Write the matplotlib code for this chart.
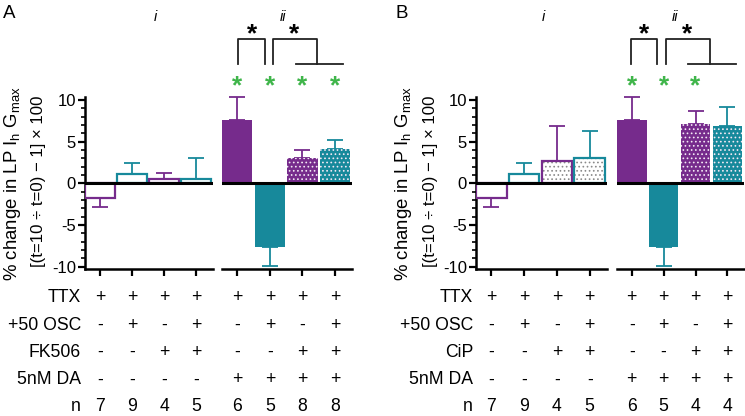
import matplotlib
matplotlib.use('Agg')
import matplotlib.pyplot as plt
from matplotlib.lines import Line2D
from matplotlib import transforms

plt.rcParams['font.family'] = ['Liberation Sans', 'DejaVu Sans']
plt.rcParams['axes.unicode_minus'] = False
plt.rcParams['mathtext.fontset'] = 'custom'
plt.rcParams['mathtext.rm'] = 'Liberation Sans'
plt.rcParams['mathtext.it'] = 'Liberation Sans:italic'
plt.rcParams['hatch.linewidth'] = 0.7

# ---------------- data ----------------
row_labels_A = ['TTX', '+50 OSC', 'FK506', '5nM DA', 'n']
row_labels_B = ['TTX', '+50 OSC', 'CiP', '5nM DA', 'n']
ttx = ['+', '+', '+', '+', '+', '+', '+', '+']
osc = ['-', '+', '-', '+', '-', '+', '-', '+']
drug = ['-', '-', '+', '+', '-', '-', '+', '+']
da = ['-', '-', '-', '-', '+', '+', '+', '+']
n_A = [7, 9, 4, 5, 6, 5, 8, 8]
n_B = [7, 9, 4, 5, 6, 5, 4, 4]

mean_A = [-1.8, 1.08, 0.52, 0.55, 7.6, -7.6, 3.0, 4.12]
sem_A = [1.1, 1.36, 0.76, 2.5, 2.8, 2.3, 1.0, 1.04]
mean_B = [-1.8, 1.08, 2.72, 3.08, 7.6, -7.6, 7.12, 6.88]
sem_B = [1.1, 1.36, 4.16, 3.15, 2.8, 2.3, 1.6, 2.24]

green_A = [False, False, False, False, True, True, True, True]
green_B = [False, False, False, False, True, True, True, False]

# ---------------- styles ----------------
PURPLE = '#762b8c'
TEAL = '#17899b'
GREEN = '#3fb54a'
colors = [PURPLE, TEAL] * 4
style_A = ['open', 'open', 'open', 'open', 'filled', 'filled', 'filled_dot', 'filled_dot']
style_B = ['open', 'open', 'open_dot', 'open_dot', 'filled', 'filled', 'filled_dot', 'filled_dot']

W, H = 745, 416
fig = plt.figure(figsize=(W / 100, H / 100), dpi=100)

def fx(px):
    return px / W

def fy(py):
    return 1 - py / H

Y_TOP_PX, Y_BOT_PX = 97.5, 269.3
YLIM = (-10.32, 10.3)
BW = 0.93
FS = 12.7


def make_ax(x0, x1, left=True):
    ax = fig.add_axes([fx(x0), fy(Y_BOT_PX), (x1 - x0) / W, (Y_BOT_PX - Y_TOP_PX) / H])
    ax.set_xlim(-0.47, 3.52)
    ax.set_ylim(*YLIM)
    ax.spines['top'].set_visible(False)
    ax.spines['right'].set_visible(False)
    ax.spines['bottom'].set_linewidth(1.8)
    ax.spines['left'].set_linewidth(1.8)
    ax.set_xticks(range(4))
    ax.set_xticklabels([''] * 4)
    ax.tick_params(axis='x', direction='out', length=5, width=1.6)
    if left:
        ax.set_yticks([-10, -5, 0, 5, 10])
        ax.set_yticks(range(-10, 11), minor=True)
        ax.tick_params(axis='y', which='major', direction='out', length=5, width=1.6,
                       labelsize=12, pad=1.5)
        ax.tick_params(axis='y', which='minor', direction='out', length=3, width=1.2)
    else:
        ax.spines['left'].set_visible(False)
        ax.set_yticks([])
    ax.axhline(0, color='black', lw=2.2, zorder=6)
    ax.patch.set_alpha(0)
    return ax


def draw_bar(ax, x, m, s, color, style):
    yerr = [[0], [s]] if m >= 0 else [[s], [0]]
    eb = ax.errorbar([x], [m], yerr=yerr, fmt='none', ecolor=color, elinewidth=1.3,
                     capsize=6, capthick=1.3, zorder=2)
    for child in eb.get_children():
        child.set_clip_on(False)
    if style == 'filled':
        ax.bar(x, m, width=BW, color=color, edgecolor='none', lw=0, zorder=3,
               antialiased=False)
    elif style == 'open':
        ax.bar(x, m, width=BW, facecolor='white', edgecolor=color, lw=1.6, zorder=3)
    elif style == 'filled_dot':
        ax.bar(x, m, width=BW, facecolor=color, edgecolor='#f2e8f4', hatch='....', lw=0,
               zorder=3, antialiased=False)
    elif style == 'open_dot':
        ax.bar(x, m, width=BW, facecolor='white', edgecolor='#8a8a8a', hatch='....', lw=0, zorder=3)
        ax.bar(x, m, width=BW, fill=False, edgecolor=color, lw=1.6, zorder=4)


def fline(xs, ys, lw=1.3, color='#222222'):
    fig.add_artist(Line2D([fx(v) for v in xs], [fy(v) for v in ys], color=color,
                          lw=lw, transform=fig.transFigure))


def panel(letter, letter_x, axL_px, axR_px, means, sems, styles, rows, ns, greens,
          label_x, ylab_x1, ylab_x2, i_x, ii_x, star_xs, br1, br2):
    axL = make_ax(*axL_px, left=True)
    axR = make_ax(*axR_px, left=False)
    for k in range(8):
        ax = axL if k < 4 else axR
        draw_bar(ax, k % 4, means[k], sems[k], colors[k], styles[k])

    # y label
    fig.text(fx(ylab_x1), fy(183), r'% change in LP I$_\mathrm{h}$ G$_\mathrm{max}$',
             rotation=90, ha='center', va='center', fontsize=13.4)
    fig.text(fx(ylab_x2), fy(181), '[(t=10 \u00f7 t=0) \u2212 1] \u00d7 100',
             rotation=90, ha='center', va='center', fontsize=12.1)

    # condition rows
    row_y = [297, 325, 352.7, 380, 406.7]
    row_vals = [ttx, osc, drug, da, [str(v) for v in ns]]
    for r, (lab, vals) in enumerate(zip(rows, row_vals)):
        fig.text(fx(label_x), fy(row_y[r]), lab, ha='right', va='center', fontsize=FS)
        for k in range(8):
            ax = axL if k < 4 else axR
            tr = transforms.blended_transform_factory(ax.transData, fig.transFigure)
            ax.text(k % 4, fy(row_y[r]), vals[k], transform=tr, ha='center', va='center',
                    fontsize=FS, clip_on=False)

    # green significance stars
    for k in range(8):
        if greens[k]:
            ax = axL if k < 4 else axR
            tr = transforms.blended_transform_factory(ax.transData, fig.transFigure)
            ax.text(k % 4, fy(86), '*', transform=tr, ha='center', va='center',
                    fontsize=19, color=GREEN, fontweight='bold', clip_on=False)

    # panel letters and section labels
    fig.text(fx(letter_x), fy(13), letter, ha='center', va='center', fontsize=13.5)
    fig.text(fx(i_x), fy(17), 'i', ha='center', va='center', fontsize=10.5, style='italic')
    fig.text(fx(ii_x), fy(17), 'ii', ha='center', va='center', fontsize=10.5, style='italic')
    for sx in star_xs:
        fig.text(fx(sx), fy(34), '*', ha='center', va='center', fontsize=19,
                 fontweight='bold', color='black')

    # brackets
    a, b = br1
    fline([a, a, b, b], [64, 39, 39, 64])
    l, r, h0, h1 = br2
    fline([l, l, r, r], [64, 39, 39, 64])
    fline([h0, h1], [64, 64])


panel('A', 9, (85, 213), (222, 352), mean_A, sem_A, style_A, row_labels_A, n_A, green_A,
      81, 13, 39, 155, 283, [252, 294], (238, 265), (273, 317, 296, 343))
panel('B', 402, (476, 606.7), (616.7, 744), mean_B, sem_B, style_B, row_labels_B, n_B, green_B,
      473, 404, 430, 543, 675, [644, 687], (631, 657), (666, 710, 688, 736))

fig.savefig('out.png', dpi=100)
